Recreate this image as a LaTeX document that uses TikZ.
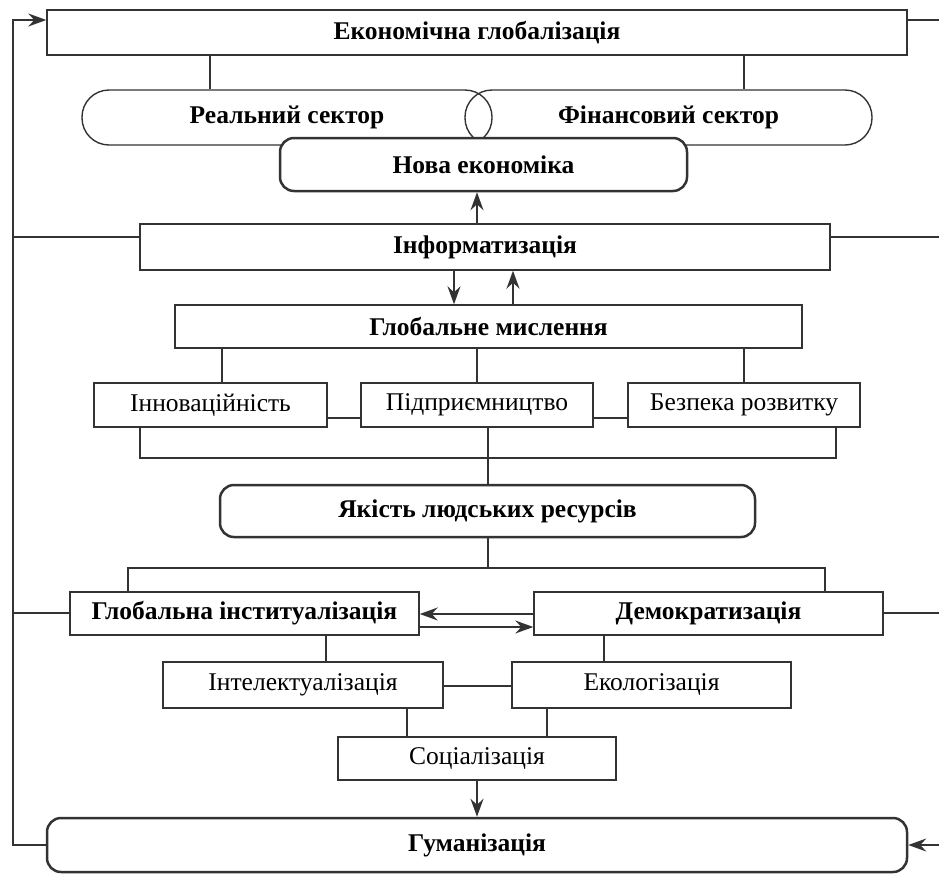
\documentclass[tikz,border=0pt]{standalone}
\usepackage{fontspec}
\setmainfont{Liberation Serif}
\usetikzlibrary{arrows.meta}
\definecolor{ink}{HTML}{333333}
\begin{document}
\begin{tikzpicture}[x=1pt,y=-1pt,
  line/.style={draw=ink,line width=1.4pt},
  arr/.style={line,-{Stealth[length=18pt,width=13pt,inset=6pt]}},
  box/.style={line,fill=white,inner sep=0pt,font=\fontsize{25.5}{28}\selectfont},
  bbox/.style={box,font=\fontsize{25.5}{28}\selectfont\bfseries},
  rbox/.style={bbox,line width=2.5pt,rounded corners=14pt},
  pill/.style={line,inner sep=0pt,rounded corners=27pt,font=\fontsize{25.5}{28}\selectfont\bfseries},
]
\useasboundingbox (0,0) rectangle (939,873);

% top level
\node[bbox,minimum width=860pt,minimum height=45pt] (eg) at (477,32.5) {Економічна глобалізація};
\node[pill,minimum width=410pt,minimum height=55pt] (real) at (287,117.5) {Реальний сектор};
\node[pill,minimum width=407pt,minimum height=55pt] (fin) at (668.5,117.5) {Фінансовий сектор};
\node[rbox,minimum width=407pt,minimum height=53pt] (nova) at (483.5,164.5) {Нова економіка};

\node[bbox,minimum width=690pt,minimum height=46pt] (inf) at (485,247) {Інформатизація};
\node[bbox,minimum width=627pt,minimum height=43pt] (gm) at (488.5,326.5) {Глобальне мислення};

\node[box,minimum width=233pt,minimum height=44pt] (inn) at (210.5,405) {Інноваційність};
\node[box,minimum width=232pt,minimum height=44pt] (pid) at (477,405) {Підприємництво};
\node[box,minimum width=232pt,minimum height=44pt] (bez) at (744,405) {Безпека розвитку};

\node[rbox,minimum width=535pt,minimum height=52pt] (yak) at (487.5,511) {Якість людських ресурсів};

\node[bbox,minimum width=349pt,minimum height=43pt] (gi) at (244.5,613.5) {Глобальна інституалізація};
\node[bbox,minimum width=349pt,minimum height=43pt] (dem) at (708.5,613.5) {Демократизація};

\node[box,minimum width=280pt,minimum height=46pt] (int) at (303,685) {Інтелектуалізація};
\node[box,minimum width=279pt,minimum height=46pt] (eko) at (651.5,685) {Екологізація};
\node[box,minimum width=278pt,minimum height=43pt] (soc) at (477,758.5) {Соціалізація};

\node[rbox,minimum width=860pt,minimum height=54pt] (hum) at (477,845) {Гуманізація};

% outer feedback loop
\coordinate (lt) at (13,20);
\coordinate (lb) at (13,845);
\coordinate (rt) at (939,20);
\coordinate (rb) at (939,845);
\draw[arr] (hum.west) -- (lb) -- (lt) -- (lt -| eg.west);
\draw[line] (rt -| eg.east) -- (rt);
\draw[arr] (rb) -- (hum.east);
\coordinate (li) at (13,237);
\coordinate (ri) at (939,237);
\draw[line] (li) -- (li -| inf.west);
\draw[line] (ri -| inf.east) -- (ri);
\coordinate (lg) at (13,613);
\coordinate (rg) at (939,613);
\draw[line] (lg) -- (lg -| gi.west);
\draw[line] (rg -| dem.east) -- (rg);

% economy block
\draw[line] (eg.south -| 210,0) -- (real.north -| 210,0);
\draw[line] (eg.south -| 744,0) -- (fin.north -| 744,0);
\draw[arr] (inf.north -| 477,0) -- (nova.south -| 477,0);
\draw[arr] (inf.south -| 454,0) -- (gm.north -| 454,0);
\draw[arr] (gm.north -| 513,0) -- (inf.south -| 513,0);

% thinking block
\draw[line] (gm.south -| 222,0) -- (inn.north -| 222,0);
\draw[line] (gm.south -| pid.north) -- (pid.north);
\draw[line] (gm.south -| bez.north) -- (bez.north);
\draw[line] (inn.east |- 0,418) -- (pid.west |- 0,418);
\draw[line] (pid.east |- 0,418) -- (bez.west |- 0,418);
\draw[line] (inn.south -| 140,0) -- (140,458) -- (836,458) -- (bez.south -| 836,0);
\draw[line] (pid.south -| 488,0) -- (yak.north -| 488,0);

% institutions block
\draw[line] (yak.south -| 488,0) -- (488,568);
\draw[line] (gi.north -| 128,0) -- (128,568) -- (825,568) -- (dem.north -| 825,0);
\draw[arr] (dem.west |- 0,614) -- (gi.east |- 0,614);
\draw[arr] (gi.east |- 0,627) -- (dem.west |- 0,627);
\draw[line] (gi.south -| 326,0) -- (int.north -| 326,0);
\draw[line] (dem.south -| 604,0) -- (eko.north -| 604,0);
\draw[line] (int.east |- 0,686) -- (eko.west |- 0,686);
\draw[line] (int.south -| 407,0) -- (soc.north -| 407,0);
\draw[line] (eko.south -| 547,0) -- (soc.north -| 547,0);
\draw[arr] (soc.south) -- (hum.north -| soc.south);
\end{tikzpicture}
\end{document}
